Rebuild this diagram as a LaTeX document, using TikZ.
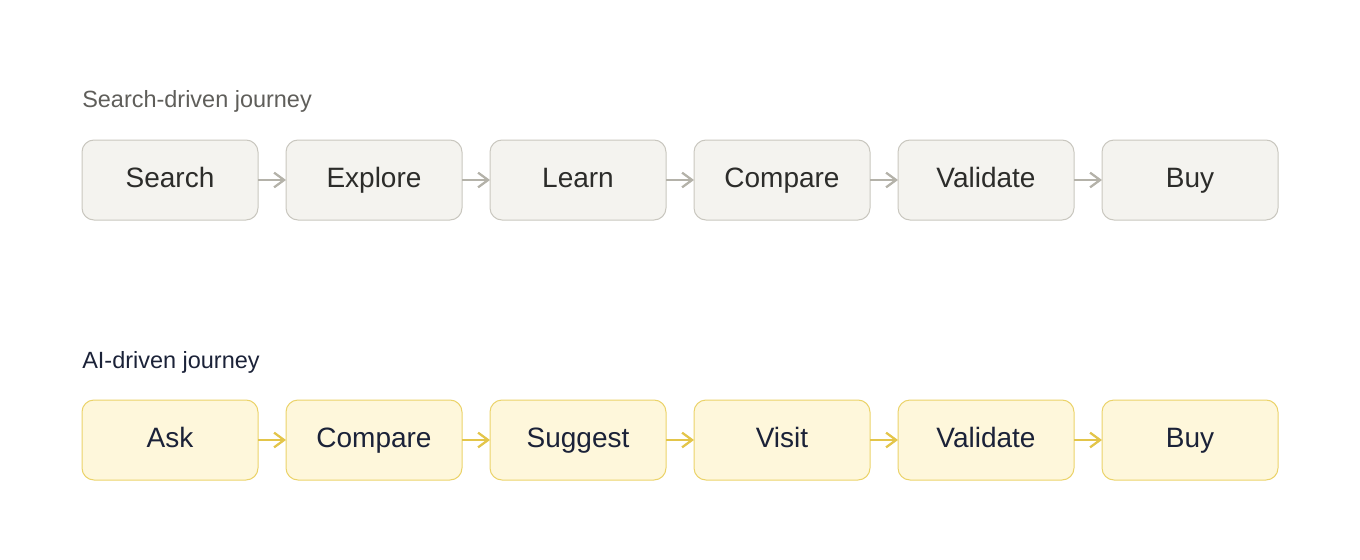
\documentclass[tikz,border=0pt]{standalone}
\usepackage{fontspec}
\setmainfont{Liberation Sans}
\usetikzlibrary{positioning,arrows.meta}

\definecolor{stonefill}{HTML}{F4F3EF}
\definecolor{stoneline}{HTML}{C9C7BF}
\definecolor{stonearrow}{HTML}{B4B2A9}
\definecolor{stonetext}{HTML}{2C2C2A}
\definecolor{stonelabel}{HTML}{5F5E5A}
\definecolor{goldfill}{HTML}{FEF7DB}
\definecolor{goldline}{HTML}{EBD36A}
\definecolor{goldarrow}{HTML}{E3C54A}
\definecolor{inktext}{HTML}{1B2238}

\tikzset{
  stepbox/.style={rectangle, rounded corners=9pt, minimum width=132pt,
    minimum height=60pt, inner sep=0pt, outer sep=0pt, line width=0.75pt,
    text height=15pt, text depth=4pt,
    font=\fontsize{21}{25}\selectfont},
  oldstep/.style={stepbox, draw=stoneline, fill=stonefill, text=stonetext},
  newstep/.style={stepbox, draw=goldline, fill=goldfill, text=inktext},
  flow/.style={line width=1.7pt, -{Straight Barb[length=7.5pt,width=11pt,line width=1.7pt]}},
  rowlabel/.style={anchor=base west, inner sep=0pt, font=\fontsize{17.6}{20}\selectfont},
}

\begin{document}
\begin{tikzpicture}[node distance=21pt]
            \useasboundingbox (0pt,0pt) rectangle (1020pt,-420pt);

            % Define nodes
            \node[rowlabel, text=stonelabel] (searchlabel) at (61.5pt,-81pt) {Search-driven journey};
            \node[oldstep] (search) at (127.5pt,-135pt) {Search};
            \node[oldstep, right=of search]  (explore) {Explore};
            \node[oldstep, right=of explore] (learn) {Learn};
            \node[oldstep, right=of learn]   (compare) {Compare};
            \node[oldstep, right=of compare] (validate) {Validate};
            \node[oldstep, right=of validate] (buy) {Buy};

            \node[rowlabel, text=inktext] (ailabel) at (61.5pt,-276pt) {AI-driven journey};
            \node[newstep] (ask) at (127.5pt,-330pt) {Ask};
            \node[newstep, right=of ask]      (compare2) {Compare};
            \node[newstep, right=of compare2] (suggest) {Suggest};
            \node[newstep, right=of suggest]  (visit) {Visit};
            \node[newstep, right=of visit]    (validate2) {Validate};
            \node[newstep, right=of validate2] (buy2) {Buy};

            % Connect the nodes
            \foreach \a/\b in {search/explore, explore/learn, learn/compare,
                               compare/validate, validate/buy}
              \draw[flow, stonearrow] (\a) -- (\b);
            \foreach \a/\b in {ask/compare2, compare2/suggest, suggest/visit,
                               visit/validate2, validate2/buy2}
              \draw[flow, goldarrow] (\a) -- (\b);
          \end{tikzpicture}
\end{document}
